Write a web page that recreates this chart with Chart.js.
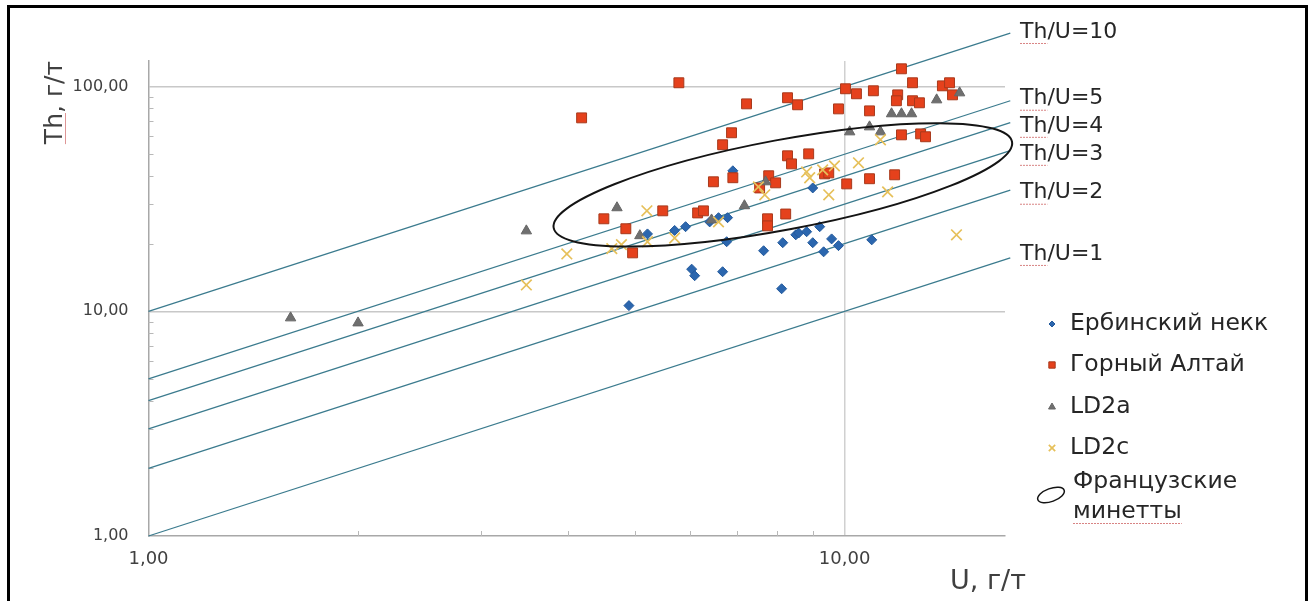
<!DOCTYPE html>
<html>
<head>
<meta charset="utf-8">
<script src="https://cdn.jsdelivr.net/npm/chart.js@4.4.1/dist/chart.umd.min.js"></script>
<style>
  html, body { margin: 0; padding: 0; background: #fff; overflow: hidden; }
  #wrap { position: relative; width: 1314px; height: 601px; }
  #chart { position: absolute; left: 0; top: 0; }
  #frame { position: absolute; left: 7px; top: 5px; width: 1295px; height: 700px; border: 3px solid #000; pointer-events: none; }
</style>
</head>
<body>
<div id="wrap">
  <canvas id="chart" width="1314" height="601"></canvas>
  <div id="frame"></div>
</div>
<script>
// axis ticks
const xMajorTicks = [1, 10];
const yMajorTicks = [1, 10, 100];
const xMinorTicks = [2, 3, 4, 5, 6, 7, 8, 9];
const yMinorTicks = [2, 3, 4, 5, 6, 7, 8, 9, 20, 30, 40, 50, 60, 70, 80, 90];

const seriesNames = ['Ербинский некк', 'Горный Алтай', 'LD2a', 'LD2c'];

// Ербинский некк
const erbinskyU = [6.91, 9.00, 5.21, 5.70, 5.91, 6.40, 6.59, 6.79, 6.77, 7.65, 8.15, 9.00, 8.51,
  8.59, 8.82, 9.21, 9.58, 9.80, 9.33, 10.94, 6.03, 6.09, 6.68, 8.12, 4.90];
const erbinskyTh = [42.2, 35.4, 22.1, 22.9, 23.8, 25.0, 26.1, 26.1, 20.4, 18.6, 20.2, 20.2, 21.9,
  22.3, 22.6, 23.8, 21.0, 19.6, 18.4, 20.8, 15.4, 14.4, 15.0, 12.6, 10.6];

// Горный Алтай
const altaiU = [4.19, 5.78, 7.23, 6.88, 6.68, 6.48, 6.91, 7.78, 7.55, 7.96, 12.07, 12.52, 13.82,
  14.15, 14.29, 10.03, 10.40, 11.00, 11.92, 11.87, 12.52, 12.81, 8.28, 8.56, 9.80, 10.86, 12.07,
  12.86, 13.07, 8.28, 8.39, 8.88, 9.36, 9.49, 10.07, 10.86, 11.80, 4.51, 4.85, 5.48, 6.15, 6.27,
  4.96, 7.75, 7.75, 8.23];
const altaiTh = [72.6, 104.0, 83.8, 62.3, 55.1, 37.7, 39.3, 40.1, 35.4, 37.3, 120.0, 104.0, 100.8,
  104.0, 91.9, 97.8, 92.9, 95.8, 91.9, 86.5, 86.5, 84.7, 89.2, 83.0, 79.6, 78.0, 61.0,
  61.6, 59.8, 49.2, 45.3, 50.2, 40.9, 41.3, 36.9, 38.9, 40.5, 25.8, 23.3, 28.0, 27.4, 28.0,
  18.2, 25.8, 24.0, 27.1];

// LD2a
const ld2aU = [1.60, 2.00, 3.49, 4.71, 5.08, 7.18, 7.70, 6.44, 10.17, 10.86, 11.26, 11.68, 12.07,
  12.48, 13.56, 14.63];
const ld2aTh = [9.35, 8.88, 22.8, 28.9, 21.7, 29.5, 37.7, 25.5, 62.9, 66.2, 62.9, 75.7, 75.7,
  75.7, 87.3, 93.8];

// LD2c
const ld2cU = [3.49, 3.99, 4.63, 4.78, 5.20, 5.21, 5.70, 6.59, 7.52, 7.68, 8.82, 8.91, 9.30, 9.67,
  10.47, 9.49, 11.26, 11.53, 14.48];
const ld2cTh = [13.1, 18.0, 19.0, 19.8, 28.0, 20.4, 21.2, 25.0, 35.8, 33.0, 41.7, 39.3, 42.6, 44.4,
  45.8, 33.0, 58.0, 34.0, 21.9];

// Th/U reference lines
const ratioLabels = ['Th/U=1', 'Th/U=2', 'Th/U=3', 'Th/U=4', 'Th/U=5', 'Th/U=10'];
const ratioStartU = 1;
const ratioEndU = 17.3;
const ratioStartTh = [1, 2, 3, 4, 5, 10];
const ratioEndTh = [17.3, 34.6, 51.9, 69.2, 86.5, 173];
const ratioLabelTh = [18.0, 33.7, 50.2, 66.9, 88.3, 175];

// French minettes field (tips of the ellipse)
const minettesU = [3.82, 17.4];
const minettesTh = [23.5, 56.8];
const minettesLabel = ['Французские', 'минетты'];

const FONT = "'DejaVu Sans', 'Open Sans', sans-serif";

function fmt(v) {
  return Number(v).toFixed(2).replace('.', ',');
}

function pairs(us, ths) {
  return us.map((u, i) => ({ x: u, y: ths[i] }));
}

const scatterSets = [
  {
    label: seriesNames[0], data: pairs(erbinskyU, erbinskyTh),
    pointStyle: 'rectRot', pointRadius: 5, backgroundColor: '#2b66ae', borderColor: '#22599c', borderWidth: 1, order: 4
  },
  {
    label: seriesNames[1], data: pairs(altaiU, altaiTh),
    pointStyle: 'rect', pointRadius: 7, backgroundColor: '#e5411c', borderColor: '#a83a1c', borderWidth: 1, order: 3
  },
  {
    label: seriesNames[2], data: pairs(ld2aU, ld2aTh),
    pointStyle: 'triangle', pointRadius: 6, backgroundColor: '#6f6f6f', borderColor: '#666666', borderWidth: 1, order: 2
  },
  {
    label: seriesNames[3], data: pairs(ld2cU, ld2cTh),
    pointStyle: 'crossRot', pointRadius: 7.5, backgroundColor: '#e6c05a', borderColor: '#e6c05a', borderWidth: 1.7, order: 1
  }
];
const legendRadius = [3, 4.5, 4, 4.5];

const ratioSets = ratioLabels.map((lbl, i) => ({
  type: 'line',
  label: lbl,
  data: [{ x: ratioStartU, y: ratioStartTh[i] }, { x: ratioEndU, y: ratioEndTh[i] }],
  borderColor: '#3b7b8e',
  borderWidth: 1.3,
  pointRadius: 0,
  fill: false,
  tension: 0,
  clip: false,
  order: 10
}));

function underline(ctx, x1, x2, y) {
  ctx.save();
  ctx.strokeStyle = 'rgba(200, 80, 80, 0.7)';
  ctx.lineWidth = 1;
  ctx.setLineDash([2, 1]);
  ctx.beginPath();
  ctx.moveTo(x1, y + 0.5);
  ctx.lineTo(x2, y + 0.5);
  ctx.stroke();
  ctx.restore();
}

const minorTicksPlugin = {
  id: 'minorTicks',
  beforeDatasetsDraw(chart) {
    const { ctx, scales: { x, y } } = chart;
    ctx.save();
    ctx.strokeStyle = '#b8b8b8';
    ctx.lineWidth = 1;
    xMinorTicks.forEach(v => {
      const px = Math.round(x.getPixelForValue(v)) + 0.5;
      ctx.beginPath();
      ctx.moveTo(px, y.bottom);
      ctx.lineTo(px, y.bottom - 5);
      ctx.stroke();
    });
    yMinorTicks.forEach(v => {
      const py = Math.round(y.getPixelForValue(v)) + 0.5;
      ctx.beginPath();
      ctx.moveTo(x.left, py);
      ctx.lineTo(x.left + 5, py);
      ctx.stroke();
    });
    ctx.restore();
  }
};

const overlayPlugin = {
  id: 'overlay',
  afterDatasetsDraw(chart) {
    const { ctx, scales: { x, y } } = chart;
    ctx.save();

    // minettes ellipse
    const x1 = x.getPixelForValue(minettesU[0]);
    const y1 = y.getPixelForValue(minettesTh[0]);
    const x2 = x.getPixelForValue(minettesU[1]);
    const y2 = y.getPixelForValue(minettesTh[1]);
    ctx.beginPath();
    ctx.ellipse((x1 + x2) / 2, (y1 + y2) / 2, Math.hypot(x2 - x1, y2 - y1) / 2, 45,
      Math.atan2(y2 - y1, x2 - x1), 0, Math.PI * 2);
    ctx.strokeStyle = '#141414';
    ctx.lineWidth = 2;
    ctx.stroke();

    // ratio line labels
    ctx.font = '22px ' + FONT;
    ctx.fillStyle = '#262626';
    ctx.textAlign = 'left';
    ctx.textBaseline = 'middle';
    ratioLabels.forEach((lbl, i) => {
      const py = y.getPixelForValue(ratioLabelTh[i]);
      const lx = 1020;
      ctx.fillText(lbl, lx, py);
      underline(ctx, lx, lx + ctx.measureText('Th').width, py + 11);
    });

    // axis titles
    ctx.fillStyle = '#404040';
    ctx.font = '27px ' + FONT;
    ctx.textAlign = 'left';
    ctx.textBaseline = 'alphabetic';
    ctx.fillText('U, г/т', 950, 589);

    ctx.save();
    ctx.translate(62, 61);
    ctx.rotate(-Math.PI / 2);
    ctx.font = '25px ' + FONT;
    ctx.textAlign = 'right';
    ctx.fillText('Th, г/т', 0, 0);
    const w = ctx.measureText('Th, г/т').width;
    const wTh = ctx.measureText('Th').width;
    ctx.restore();
    ctx.save();
    ctx.strokeStyle = 'rgba(200, 80, 80, 0.6)';
    ctx.lineWidth = 1;
    ctx.beginPath();
    ctx.moveTo(65.5, 61 + w);
    ctx.lineTo(65.5, 61 + w - wTh);
    ctx.stroke();
    ctx.restore();

    // legend
    const markX = 1052;
    const textX = 1070;
    const rowsY = [324, 365, 407, 448];
    ctx.font = '23.5px ' + FONT;
    ctx.textBaseline = 'middle';
    ctx.textAlign = 'left';
    scatterSets.forEach((ds, i) => {
      ctx.save();
      ctx.fillStyle = ds.backgroundColor;
      ctx.strokeStyle = ds.borderColor;
      ctx.lineWidth = ds.borderWidth;
      if (Chart.helpers && Chart.helpers.drawPoint) {
        Chart.helpers.drawPoint(ctx, {
          pointStyle: ds.pointStyle, radius: legendRadius[i], rotation: 0, borderWidth: ds.borderWidth
        }, markX, rowsY[i]);
      }
      ctx.restore();
      ctx.fillStyle = '#262626';
      ctx.fillText(ds.label, textX, rowsY[i]);
    });
    ctx.beginPath();
    ctx.ellipse(1051, 495, 14, 6.5, -0.35, 0, Math.PI * 2);
    ctx.strokeStyle = '#141414';
    ctx.lineWidth = 1.5;
    ctx.stroke();
    ctx.fillStyle = '#262626';
    ctx.fillText(minettesLabel[0], textX + 3, 482);
    ctx.fillText(minettesLabel[1], textX + 3, 512);
    underline(ctx, textX + 3, textX + 3 + ctx.measureText(minettesLabel[1]).width, 523);

    ctx.restore();
  }
};

new Chart(document.getElementById('chart'), {
  type: 'scatter',
  data: { datasets: [...scatterSets, ...ratioSets] },
  options: {
    responsive: false,
    animation: false,
    events: [],
    layout: { padding: { left: 0, top: 61, right: 309, bottom: 0 } },
    plugins: {
      legend: { display: false },
      tooltip: { enabled: false },
      title: { display: false }
    },
    scales: {
      x: {
        type: 'logarithmic',
        position: 'bottom',
        min: 1,
        max: 17,
        afterBuildTicks: s => { s.ticks = xMajorTicks.map(v => ({ value: v })); },
        afterFit: s => { s.height = 65; },
        grid: {
          color: c => (c.tick && c.tick.value === 10 ? '#d0d0d0' : 'rgba(0,0,0,0)'),
          lineWidth: 1.5,
          drawTicks: false
        },
        border: { color: '#a8a8a8', width: 1.5 },
        ticks: {
          padding: 13,
          color: '#404040',
          font: { family: FONT, size: 18 },
          autoSkip: false,
          maxRotation: 0,
          callback: v => fmt(v)
        }
      },
      y: {
        type: 'logarithmic',
        position: 'left',
        min: 1,
        max: 130,
        afterBuildTicks: s => { s.ticks = yMajorTicks.map(v => ({ value: v })); },
        afterFit: s => { s.width = 148.5; },
        grid: {
          color: c => (c.tick && c.tick.value > 1 ? '#c8c8c8' : 'rgba(0,0,0,0)'),
          lineWidth: 1.5,
          drawTicks: false
        },
        border: { color: '#a8a8a8', width: 1.5 },
        ticks: {
          padding: 20,
          color: '#404040',
          font: { family: FONT, size: 16 },
          autoSkip: false,
          callback: v => fmt(v)
        }
      }
    }
  },
  plugins: [minorTicksPlugin, overlayPlugin]
});
</script>
</body>
</html>
